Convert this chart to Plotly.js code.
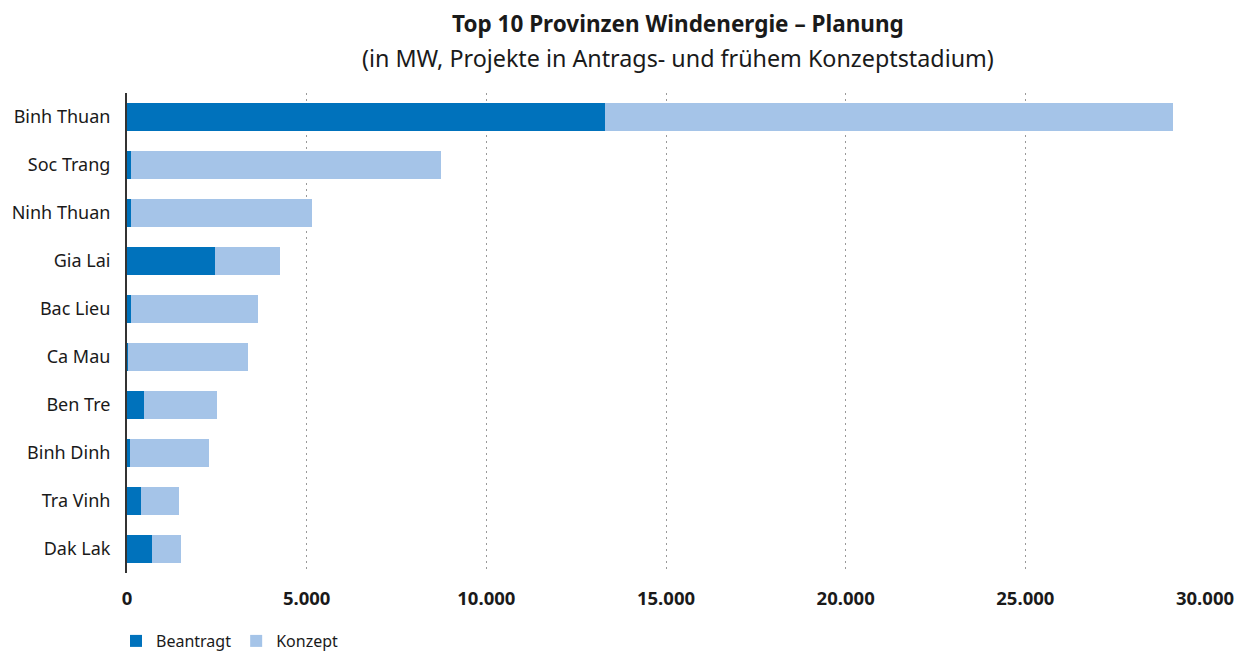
<!DOCTYPE html>
<html>
<head>
<meta charset="utf-8">
<script src="https://cdn.plot.ly/plotly-3.0.1.min.js"></script>
<style>html,body{margin:0;padding:0;background:#fff;}#chart{width:1242px;height:651px;}</style>
</head>
<body>
<div id="chart"></div>
<script>
const provinces = ["Binh Thuan","Soc Trang","Ninh Thuan","Gia Lai","Bac Lieu","Ca Mau","Ben Tre","Binh Dinh","Tra Vinh","Dak Lak"];
const beantragt = [13300, 110, 110, 2450, 110, 30, 475, 80, 390, 700];
const konzept   = [15810, 8630, 5040, 1810, 3540, 3340, 2025, 2200, 1060, 800];
const xTicks = [0, 5000, 10000, 15000, 20000, 25000, 30000];
const xTickLabels = ["0","5.000","10.000","15.000","20.000","25.000","30.000"];
const titleText = "Top 10 Provinzen Windenergie – Planung";
const subtitleText = "(in MW, Projekte in Antrags- und frühem Konzeptstadium)";

const FONT = "Noto Sans, Open Sans, sans-serif";
const data = [
  {type:"bar", orientation:"h", name:"Beantragt", y:provinces, x:beantragt,
   marker:{color:"#0072bc"}, width:0.6, hoverinfo:"x+y"},
  {type:"bar", orientation:"h", name:"Konzept", y:provinces, x:konzept,
   marker:{color:"#a5c4e8"}, width:0.6, hoverinfo:"x+y"}
];
const layout = {
  width:1242, height:651,
  barmode:"stack",
  separators:",.",
  paper_bgcolor:"#fff", plot_bgcolor:"#fff",
  margin:{l:127, r:37, t:93, b:78, pad:0, autoexpand:false},
  font:{family:FONT, color:"#1a1a1a"},
  showlegend:true,
  legend:{orientation:"h", x:-0.0102, xanchor:"left", y:-(641-573)/480, yanchor:"middle",
          font:{size:16, family:FONT, color:"#1a1a1a"}, traceorder:"normal",
          bgcolor:"rgba(0,0,0,0)", borderwidth:0, itemwidth:30, tracegroupgap:0},
  xaxis:{range:[0,30000], tickvals:xTicks, ticktext:xTickLabels,
         showgrid:true, gridcolor:"#999", griddash:"2px,4px", gridwidth:1,
         zeroline:false, showline:false, ticks:"",
         tickfont:{size:18.5, family:FONT, color:"#1a1a1a", weight:"bold"},
         ticklabelstandoff:12, fixedrange:true},
  yaxis:{categoryorder:"array", categoryarray:provinces, autorange:"reversed",
         showgrid:false, zeroline:false, showline:true, linecolor:"#333", linewidth:2,
         ticks:"", tickfont:{size:18, family:FONT, color:"#1a1a1a"},
         ticklabelstandoff:11, fixedrange:true},
  annotations:[
    {text:"<b>"+titleText+"</b>", xref:"paper", yref:"paper", x:0.511, y:1+(93-24)/480,
     xanchor:"center", yanchor:"middle", showarrow:false, font:{size:22.5, family:FONT, color:"#1a1a1a"}},
    {text:subtitleText, xref:"paper", yref:"paper", x:0.511, y:1+(93-58)/480,
     xanchor:"center", yanchor:"middle", showarrow:false, font:{size:23.3, family:FONT, color:"#1a1a1a"}}
  ]
};
Plotly.newPlot("chart", data, layout, {displayModeBar:false, staticPlot:true});
</script>
</body>
</html>
